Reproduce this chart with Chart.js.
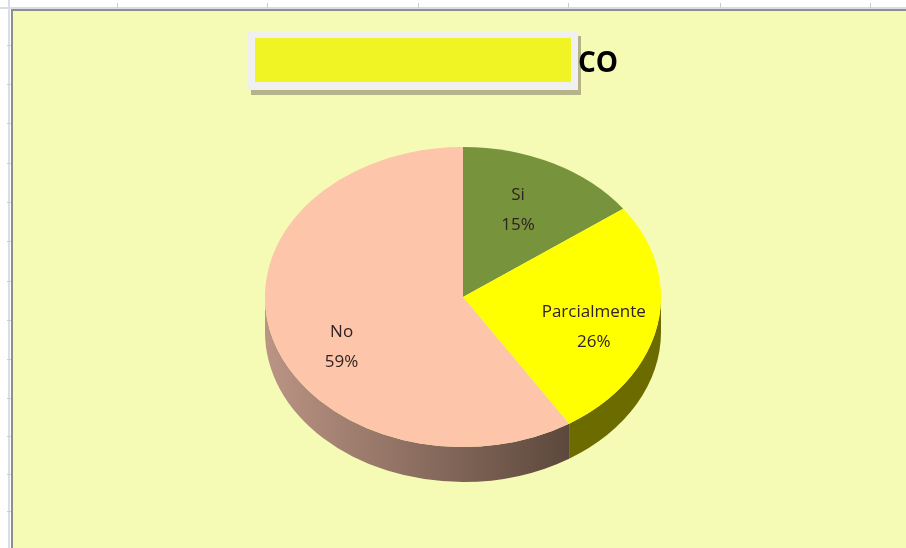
<!DOCTYPE html>
<html>
<head>
<meta charset="utf-8">
<script src="https://cdn.jsdelivr.net/npm/chart.js@4.4.0/dist/chart.umd.min.js"></script>
<style>
  html, body { margin: 0; padding: 0; background: #ffffff; }
  #wrap { width: 906px; height: 548px; position: relative; }
</style>
</head>
<body>
<div id="wrap"><canvas id="pieChart" width="906" height="548"></canvas></div>
<script>
// data
const categories = ['Si', 'Parcialmente', 'No'];
const values = [15, 26, 59];
const titleText = 'CO';

// colours
const sliceColors = ['#77933c', '#ffff00', '#fdc5a9'];
const wallColors = ['#4f6328', '#6b6b00', null]; // "No" wall uses a gradient

const tilt = 150 / 198;   // vertical squash of the pie
const depth = 35;         // thickness of the 3D wall

// sheet background, grid ticks and frame
const sheetPlugin = {
    id: 'sheet',
    beforeDraw(chart) {
        const ctx = chart.ctx;
        const w = chart.width, h = chart.height;
        ctx.save();
        ctx.fillStyle = '#ffffff';
        ctx.fillRect(0, 0, w, h);
        ctx.fillStyle = '#d9dde6';
        ctx.fillRect(0, 7, w, 2);
        ctx.fillRect(8, 0, 2, h);
        ctx.strokeStyle = '#c8ccd8';
        ctx.lineWidth = 1;
        [117, 267, 418, 568, 720, 870].forEach(x => {
            ctx.beginPath(); ctx.moveTo(x + 0.5, 3); ctx.lineTo(x + 0.5, 8); ctx.stroke();
        });
        [45, 84, 123, 163, 202, 241, 281, 320, 359, 398, 436, 474, 511].forEach(y => {
            ctx.beginPath(); ctx.moveTo(7, y + 0.5); ctx.lineTo(12, y + 0.5); ctx.stroke();
        });
        ctx.fillStyle = '#f5fab4';
        ctx.fillRect(12, 10, w - 12, h - 10);
        ctx.fillStyle = '#8e8e8e';
        ctx.fillRect(11, 9, w - 11, 2);
        ctx.fillRect(11, 9, 2, h - 9);

        // title (covered box + visible text)
        ctx.fillStyle = '#b4b488';
        ctx.fillRect(251, 36, 330, 59);
        ctx.fillStyle = '#f0f0f0';
        ctx.fillRect(247, 32, 331, 58);
        ctx.fillStyle = '#f0f424';
        ctx.fillRect(255, 38, 316, 44);
        ctx.fillStyle = '#000000';
        ctx.font = 'bold 28px "Open Sans", "DejaVu Sans", sans-serif';
        ctx.textBaseline = 'alphabetic';
        ctx.textAlign = 'left';
        ctx.fillText(titleText, 578, 72);
        ctx.restore();
    }
};

// 3D look: draw walls, then squash the top face
const pie3dPlugin = {
    id: 'pie3d',
    beforeDatasetsDraw(chart) {
        const ctx = chart.ctx;
        const arcs = chart.getDatasetMeta(0).data;
        ctx.save();
        arcs.forEach((arc, i) => {
            const p = arc.getProps(['x', 'y', 'startAngle', 'endAngle', 'outerRadius'], true);
            const a1 = Math.max(p.startAngle, 0);
            const a2 = Math.min(p.endAngle, Math.PI);
            if (a1 >= a2) return;
            const r = p.outerRadius, ry = r * tilt;
            let fill = wallColors[i];
            if (!fill) {
                const g = ctx.createLinearGradient(p.x - r, 0, p.x + r * Math.cos(a1), 0);
                g.addColorStop(0, '#bb9484');
                g.addColorStop(1, '#5c483c');
                fill = g;
            }
            ctx.beginPath();
            ctx.ellipse(p.x, p.y, r, ry, 0, a1, a2);
            ctx.ellipse(p.x, p.y + depth, r, ry, 0, a2, a1, true);
            ctx.closePath();
            ctx.fillStyle = fill;
            ctx.fill();
        });
        const c = arcs[0];
        ctx.translate(c.x, c.y);
        ctx.scale(1, tilt);
        ctx.translate(-c.x, -c.y);
    },
    afterDatasetsDraw(chart) {
        const ctx = chart.ctx;
        ctx.restore();
        // data labels, placed on the bisector of the squashed slice
        const total = values.reduce((a, b) => a + b, 0);
        ctx.save();
        ctx.font = '17px "Open Sans", "DejaVu Sans", sans-serif';
        ctx.fillStyle = '#2e2222';
        ctx.textAlign = 'center';
        ctx.textBaseline = 'middle';
        chart.getDatasetMeta(0).data.forEach((arc, i) => {
            const proj = a => Math.atan2(tilt * Math.sin(a), Math.cos(a));
            let p1 = proj(arc.startAngle), p2 = proj(arc.endAngle);
            while (p2 <= p1) p2 += Math.PI * 2;
            const mid = (p1 + p2) / 2;
            const a = arc.outerRadius, b = arc.outerRadius * tilt;
            const edge = a * b / Math.hypot(b * Math.cos(mid), a * Math.sin(mid));
            const rr = edge * 0.68;
            const x = arc.x + rr * Math.cos(mid);
            const y = arc.y + rr * Math.sin(mid) + 6;
            const pct = Math.round(values[i] / total * 100) + '%';
            ctx.fillText(categories[i], x, y - 15);
            ctx.fillText(pct, x, y + 15);
        });
        ctx.restore();
    }
};

const ctx = document.getElementById('pieChart').getContext('2d');
new Chart(ctx, {
    type: 'pie',
    data: {
        labels: categories,
        datasets: [{
            data: values,
            backgroundColor: sliceColors,
            borderWidth: 0
        }]
    },
    options: {
        responsive: false,
        animation: false,
        layout: {
            padding: { left: 265, right: 245, top: 99, bottom: 53 }
        },
        plugins: {
            legend: { display: false },
            title: { display: false },
            tooltip: { enabled: false }
        }
    },
    plugins: [sheetPlugin, pie3dPlugin]
});
</script>
</body>
</html>
